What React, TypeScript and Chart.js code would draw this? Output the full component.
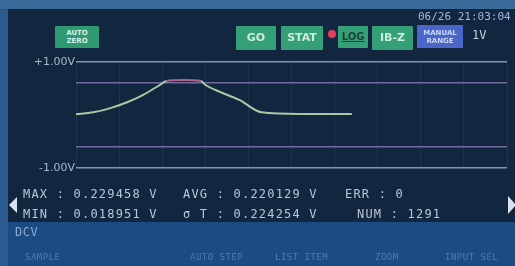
import React, { useEffect, useRef } from "react";
import { Chart, registerables } from "chart.js";

Chart.register(...registerables);

// ---- data ----
const sampleX = [0, 4, 8, 12, 15.6, 19.5, 21, 25, 29, 30, 34, 38, 43, 52, 64];
const voltage = [0.013, 0.05, 0.13, 0.245, 0.38, 0.57, 0.64, 0.66, 0.64, 0.57, 0.415, 0.28, 0.05, 0.02, 0.02];
const peakRange = [21, 29];
const yGridValues = [-1, -0.6, 0.6, 1];
const yTickLabels: Record<string, string> = { "1": "+1.00V", "-1": "-1.00V" };
const statsRow1 = ["MAX : 0.229458 V", "AVG : 0.220129 V", "ERR : 0"];
const statsRow2 = ["MIN : 0.018951 V", "σ T : 0.224254 V", "NUM : 1291"];
const bottomLabels = ["SAMPLE", "AUTO STEP", "LIST ITEM", "ZOOM", "INPUT SEL"];

const GREEN = "#a9c9a4";
const PINK = "#a8688c";

function Btn(props: { x: number; y: number; w: number; h: number; bg: string; children: React.ReactNode; small?: boolean; color?: string }) {
  return (
    <div
      style={{
        position: "absolute",
        left: props.x,
        top: props.y,
        width: props.w,
        height: props.h,
        background: props.bg,
        color: props.color || "#cfeadf",
        fontFamily: "DejaVu Sans, sans-serif",
        fontWeight: "bold",
        fontSize: props.small ? 7 : 11,
        lineHeight: props.small ? "8px" : props.h + "px",
        textAlign: "center",
        display: "flex",
        flexDirection: "column",
        justifyContent: "center",
        alignItems: "center",
        borderRadius: 1,
      }}
    >
      {props.children}
    </div>
  );
}

export default function App() {
  const ref = useRef<HTMLCanvasElement>(null);
  useEffect(() => {
    if (!ref.current) return;
    const chart = new Chart(ref.current, {
      type: "line",
      data: {
        datasets: [
          {
            data: sampleX.map((x, i) => ({ x, y: voltage[i] })),
            borderColor: GREEN,
            borderWidth: 2,
            pointRadius: 0,
            cubicInterpolationMode: "monotone",
            segment: {
              borderColor: (ctx: any) =>
                ctx.p0.parsed.x >= peakRange[0] && ctx.p1.parsed.x <= peakRange[1] ? PINK : GREEN,
            },
          },
        ],
      },
      options: {
        animation: false,
        responsive: false,
        maintainAspectRatio: false,
        layout: { padding: { top: 62, bottom: 98, left: 0, right: 8 } },
        plugins: { legend: { display: false }, tooltip: { enabled: false } },
        scales: {
          x: {
            type: "linear",
            min: 0,
            max: 100,
            ticks: { display: false, stepSize: 10 },
            border: { display: false },
            grid: { color: "rgba(120,140,180,0.13)", lineWidth: 1, drawTicks: false },
            afterFit: (s: any) => {
              s.height = 0;
            },
          },
          y: {
            min: -1,
            max: 1,
            afterBuildTicks: (s: any) => {
              s.ticks = yGridValues.map((v) => ({ value: v }));
            },
            ticks: {
              color: "#a9b6cc",
              font: { family: "DejaVu Sans", size: 11 },
              padding: 1,
              callback: (v: any) => yTickLabels[String(v)] || "",
            },
            border: { display: false },
            grid: {
              drawTicks: false,
              lineWidth: 1.5,
              color: (c: any) => (Math.abs(c.tick.value) === 1 ? "#8791b3" : "#6e6c9c"),
            },
            afterFit: (s: any) => {
              s.width = 76;
            },
          },
        },
      },
    });
    return () => chart.destroy();
  }, []);

  const textStyle: React.CSSProperties = {
    position: "absolute",
    color: "#b9c6d9",
    fontFamily: "DejaVu Sans Mono, monospace",
    fontSize: 12,
    letterSpacing: 1.2,
    whiteSpace: "pre",
  };

  return (
    <div style={{ position: "fixed", left: 0, top: 0, width: 515, height: 266, background: "#2b5b8e", overflow: "hidden" }}>
      <div style={{ position: "absolute", left: 0, top: 0, width: 515, height: 9, background: "#3a6a9a" }} />
      <div style={{ position: "absolute", left: 8, top: 9, width: 507, height: 213, background: "#13263f" }} />
      <div style={{ position: "absolute", left: 8, top: 222, width: 507, height: 44, background: "#1a4b82" }} />
      <canvas ref={ref} width={515} height={266} style={{ position: "absolute", left: 0, top: 0 }} />

      <Btn x={55} y={26} w={44} h={22} bg="#2f9a72" small color="#d5efe4">
        <span>AUTO</span>
        <span>ZERO</span>
      </Btn>
      <Btn x={236} y={26} w={40} h={24} bg="#35a077">GO</Btn>
      <Btn x={281} y={26} w={42} h={24} bg="#35a077">STAT</Btn>
      <div style={{ position: "absolute", left: 328, top: 30, width: 8, height: 8, borderRadius: 4, background: "#e0405a" }} />
      <Btn x={338} y={26} w={30} h={22} bg="#35a077" color="#1d3f37">
        <span style={{ textDecoration: "underline", fontSize: 10 }}>LOG</span>
      </Btn>
      <Btn x={372} y={26} w={41} h={24} bg="#35a077">IB-Z</Btn>
      <Btn x={417} y={25} w={46} h={23} bg="#4a66c8" small color="#cdd8f6">
        <span>MANUAL</span>
        <span>RANGE</span>
      </Btn>
      <div style={{ ...textStyle, left: 472, top: 28, fontSize: 12, letterSpacing: 0, color: "#c5cfe0" }}>1V</div>
      <div style={{ ...textStyle, left: 418, top: 10, fontSize: 11, letterSpacing: 0, color: "#9fb6e2" }}>06/26 21:03:04</div>

      <div style={{ ...textStyle, left: 23, top: 187 }}>{statsRow1[0]}</div>
      <div style={{ ...textStyle, left: 183, top: 187 }}>{statsRow1[1]}</div>
      <div style={{ ...textStyle, left: 345, top: 187 }}>{statsRow1[2]}</div>
      <div style={{ ...textStyle, left: 23, top: 207 }}>{statsRow2[0]}</div>
      <div style={{ ...textStyle, left: 183, top: 207 }}>{statsRow2[1]}</div>
      <div style={{ ...textStyle, left: 357, top: 207 }}>{statsRow2[2]}</div>

      <div style={{ position: "absolute", left: 9, top: 197, width: 0, height: 0, borderTop: "8px solid transparent", borderBottom: "8px solid transparent", borderRight: "8px solid #d8e2f0" }} />
      <div style={{ position: "absolute", left: 508, top: 196, width: 0, height: 0, borderTop: "9px solid transparent", borderBottom: "9px solid transparent", borderLeft: "8px solid #d8e2f0" }} />

      <div style={{ ...textStyle, left: 15, top: 225, color: "#8fa9cf", fontSize: 12, letterSpacing: 0.5 }}>DCV</div>

      {bottomLabels.map((l, i) => (
        <div
          key={l}
          style={{ ...textStyle, left: [25, 190, 275, 375, 445][i], top: 252, color: "#4f7bb0", fontSize: 9, letterSpacing: 0.5 }}
        >
          {l}
        </div>
      ))}
    </div>
  );
}
